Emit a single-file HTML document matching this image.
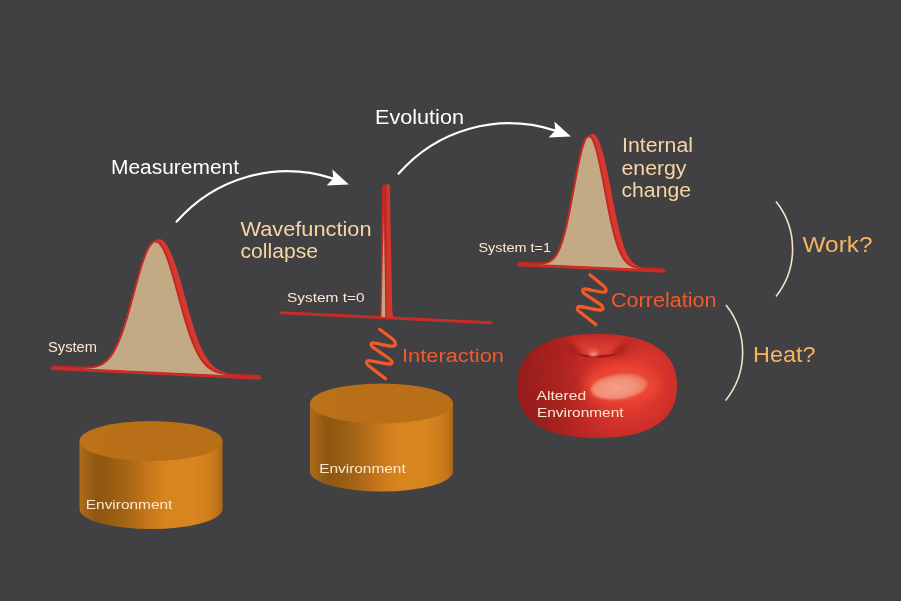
<!DOCTYPE html>
<html><head><meta charset="utf-8"><style>
html,body{margin:0;padding:0;background:#414042;}
svg{display:block;will-change:transform;}
text{font-family:"Liberation Sans", sans-serif;}
</style></head><body>
<svg width="901" height="601" viewBox="0 0 901 601">
<rect width="901" height="601" fill="#414042"/>
<defs>
<linearGradient id="cylside" x1="0" x2="1" y1="0" y2="0">
<stop offset="0" stop-color="#b06d19"/>
<stop offset="0.05" stop-color="#a0621a"/>
<stop offset="0.12" stop-color="#8f570f"/>
<stop offset="0.2" stop-color="#945b11"/>
<stop offset="0.34" stop-color="#a86615"/>
<stop offset="0.46" stop-color="#c2751a"/>
<stop offset="0.56" stop-color="#d3801d"/>
<stop offset="0.63" stop-color="#d9851f"/>
<stop offset="0.8" stop-color="#d9851f"/>
<stop offset="0.9" stop-color="#cf7e1d"/>
<stop offset="0.96" stop-color="#c17419"/>
<stop offset="1" stop-color="#a86715"/>
</linearGradient>
<linearGradient id="cyltop" x1="0" x2="1" y1="0" y2="0">
<stop offset="0" stop-color="#bd7319"/>
<stop offset="0.3" stop-color="#b86f18"/>
<stop offset="1" stop-color="#b87018"/>
</linearGradient>
<radialGradient id="torus" gradientUnits="userSpaceOnUse" cx="628" cy="383" r="105" fx="628" fy="383">
<stop offset="0" stop-color="#eb4233"/>
<stop offset="0.25" stop-color="#df392e"/>
<stop offset="0.5" stop-color="#c92d28"/>
<stop offset="0.75" stop-color="#b32521"/>
<stop offset="1" stop-color="#9b1e1e"/>
</radialGradient>
<linearGradient id="funnel" x1="0" x2="0" y1="0" y2="1">
<stop offset="0" stop-color="#c62e29"/>
<stop offset="0.6" stop-color="#d83a30"/>
<stop offset="1" stop-color="#ea4a3a"/>
</linearGradient>
<radialGradient id="hl" cx="0.45" cy="0.55" r="0.6">
<stop offset="0" stop-color="#f4a18b"/>
<stop offset="0.6" stop-color="#f18f79"/>
<stop offset="1" stop-color="#ec6a55"/>
</radialGradient>
<filter id="blur2" x="-50%" y="-50%" width="200%" height="200%"><feGaussianBlur stdDeviation="2.2"/></filter>
<filter id="blur8" x="-50%" y="-50%" width="200%" height="200%"><feGaussianBlur stdDeviation="10"/></filter>
<linearGradient id="spiketan" x1="0" x2="0" y1="0" y2="1">
<stop offset="0" stop-color="#c85a45"/>
<stop offset="0.35" stop-color="#c89878"/>
<stop offset="1" stop-color="#c4a985"/>
</linearGradient>
<filter id="blur3" x="-50%" y="-50%" width="200%" height="200%"><feGaussianBlur stdDeviation="3"/></filter>
<filter id="blur15" x="-50%" y="-50%" width="200%" height="200%"><feGaussianBlur stdDeviation="1.5"/></filter>
<filter id="blur08" x="-50%" y="-50%" width="200%" height="200%"><feGaussianBlur stdDeviation="0.8"/></filter>
<filter id="blur05" x="-50%" y="-50%" width="200%" height="200%"><feGaussianBlur stdDeviation="0.5"/></filter>
<filter id="blur4" x="-50%" y="-50%" width="200%" height="200%"><feGaussianBlur stdDeviation="5"/></filter>
<filter id="blur1" x="-50%" y="-50%" width="200%" height="200%"><feGaussianBlur stdDeviation="1.2"/></filter>
</defs>
<g transform="translate(0,0)"><path d="M176.7,221.6 C215,178 275,160 333.3,178.6" fill="none" stroke="#fff" stroke-width="2.2" stroke-linecap="round"/><path d="M332.4,169.6 L348.9,184.4 L326.6,185.5 L333.3,178.6 Z" fill="#fff"/></g>
<g transform="translate(222,-48)"><path d="M176.7,221.6 C215,178 275,160 333.3,178.6" fill="none" stroke="#fff" stroke-width="2.2" stroke-linecap="round"/><path d="M332.4,169.6 L348.9,184.4 L326.6,185.5 L333.3,178.6 Z" fill="#fff"/></g>
<path d="M79.5,441 L79.5,509 A71.5,20 0 0 0 222.5,509 L222.5,441 Z" fill="url(#cylside)"/><ellipse cx="151" cy="441" rx="71.5" ry="20" fill="url(#cyltop)"/>
<path d="M310.0,403.5 L310.0,471.5 A71.5,20 0 0 0 453.0,471.5 L453.0,403.5 Z" fill="url(#cylside)"/><ellipse cx="381.5" cy="403.5" rx="71.5" ry="20" fill="url(#cyltop)"/>
<path d="M52.00,367.24 L52.69,367.28 L53.39,367.31 L54.08,367.34 L54.77,367.37 L55.47,367.40 L56.16,367.44 L56.85,367.47 L57.55,367.50 L58.24,367.53 L58.93,367.57 L59.63,367.60 L60.32,367.63 L61.01,367.66 L61.71,367.69 L62.40,367.73 L63.09,367.76 L63.79,367.79 L64.48,367.82 L65.17,367.85 L65.87,367.89 L66.56,367.92 L67.25,367.95 L67.95,367.98 L68.64,368.01 L69.33,368.04 L70.03,368.08 L70.72,368.11 L71.41,368.14 L72.11,368.17 L72.80,368.20 L73.49,368.23 L74.19,368.26 L74.88,368.29 L75.57,368.32 L76.27,368.34 L76.96,368.37 L77.65,368.40 L78.35,368.42 L79.04,368.45 L79.73,368.48 L80.43,368.50 L81.12,368.52 L81.81,368.54 L82.51,368.56 L83.20,368.58 L83.89,368.60 L84.59,368.61 L85.28,368.63 L85.97,368.64 L86.67,368.65 L87.36,368.65 L88.05,368.65 L88.75,368.65 L89.44,368.65 L90.13,368.64 L90.83,368.62 L91.52,368.60 L92.21,368.58 L92.91,368.55 L93.60,368.51 L94.29,368.47 L94.99,368.42 L95.68,368.36 L96.37,368.29 L97.07,368.21 L97.76,368.12 L98.45,368.02 L99.15,367.90 L99.84,367.78 L100.53,367.63 L101.23,367.48 L101.92,367.30 L102.61,367.11 L103.31,366.90 L104.00,366.67 L104.69,366.41 L105.39,366.14 L106.08,365.83 L106.77,365.50 L107.47,365.15 L108.16,364.76 L108.85,364.35 L109.55,363.90 L110.24,363.41 L110.93,362.89 L111.63,362.33 L112.32,361.73 L113.01,361.09 L113.71,360.41 L114.40,359.68 L115.09,358.90 L115.79,358.07 L116.48,357.19 L117.17,356.26 L117.87,355.28 L118.56,354.24 L119.25,353.14 L119.95,351.99 L120.64,350.77 L121.33,349.49 L122.03,348.15 L122.72,346.75 L123.41,345.28 L124.11,343.75 L124.80,342.16 L125.49,340.49 L126.19,338.77 L126.88,336.98 L127.57,335.12 L128.27,333.20 L128.96,331.22 L129.65,329.17 L130.34,327.07 L131.04,324.90 L131.73,322.68 L132.42,320.41 L133.11,318.09 L133.80,315.72 L134.49,313.30 L135.18,310.85 L135.87,308.35 L136.56,305.83 L137.25,303.28 L137.93,300.70 L138.61,298.11 L139.29,295.51 L139.97,292.90 L140.65,290.29 L141.32,287.69 L141.99,285.10 L142.66,282.52 L143.32,279.97 L143.97,277.46 L144.63,274.97 L145.27,272.53 L145.92,270.14 L146.55,267.80 L147.19,265.52 L147.81,263.31 L148.44,261.16 L149.05,259.09 L149.67,257.10 L150.28,255.20 L150.88,253.38 L151.49,251.66 L152.09,250.05 L152.70,248.54 L153.30,247.14 L153.91,245.87 L154.53,244.72 L155.15,243.70 L155.77,242.82 L156.41,242.08 L157.05,241.49 L157.71,241.05 L158.37,240.77 L159.05,240.64 L159.75,240.67 L160.45,240.85 L161.17,241.18 L161.90,241.66 L162.64,242.28 L163.39,243.04 L164.15,243.94 L164.91,244.97 L165.68,246.12 L166.45,247.39 L167.23,248.78 L168.01,250.27 L168.79,251.87 L169.57,253.56 L170.35,255.35 L171.12,257.23 L171.90,259.18 L172.66,261.22 L173.43,263.33 L174.19,265.51 L174.94,267.76 L175.70,270.06 L176.44,272.42 L177.18,274.82 L177.92,277.27 L178.65,279.76 L179.38,282.29 L180.10,284.84 L180.82,287.41 L181.54,289.99 L182.25,292.59 L182.96,295.20 L183.67,297.80 L184.37,300.39 L185.08,302.98 L185.78,305.54 L186.48,308.09 L187.18,310.61 L187.88,313.10 L188.57,315.55 L189.27,317.97 L189.97,320.35 L190.66,322.68 L191.36,324.96 L192.05,327.20 L192.74,329.38 L193.44,331.50 L194.13,333.57 L194.83,335.58 L195.52,337.54 L196.21,339.43 L196.91,341.26 L197.60,343.04 L198.29,344.74 L198.99,346.39 L199.68,347.98 L200.37,349.50 L201.07,350.97 L201.76,352.37 L202.45,353.72 L203.15,355.00 L203.84,356.23 L204.53,357.41 L205.23,358.52 L205.92,359.59 L206.61,360.60 L207.31,361.56 L208.00,362.47 L208.69,363.33 L209.39,364.15 L210.08,364.92 L210.77,365.65 L211.47,366.33 L212.16,366.98 L212.85,367.59 L213.55,368.17 L214.24,368.70 L214.93,369.21 L215.63,369.69 L216.32,370.13 L217.01,370.55 L217.71,370.94 L218.40,371.30 L219.09,371.64 L219.79,371.96 L220.48,372.26 L221.17,372.54 L221.87,372.80 L222.56,373.04 L223.25,373.26 L223.95,373.47 L224.64,373.67 L225.33,373.85 L226.03,374.02 L226.72,374.18 L227.41,374.33 L228.11,374.46 L228.80,374.59 L229.49,374.71 L230.19,374.82 L230.88,374.93 L231.57,375.03 L232.27,375.12 L232.96,375.21 L233.65,375.29 L234.35,375.36 L235.04,375.44 L235.73,375.51 L236.43,375.57 L237.12,375.63 L237.81,375.69 L238.51,375.75 L239.20,375.80 L239.89,375.85 L240.59,375.90 L241.28,375.95 L241.97,376.00 L242.67,376.04 L243.36,376.08 L244.05,376.13 L244.75,376.17 L245.44,376.21 L246.13,376.25 L246.83,376.29 L247.52,376.32 L248.21,376.36 L248.91,376.40 L249.60,376.43 L250.29,376.47 L250.99,376.50 L251.68,376.54 L252.37,376.57 L253.07,376.61 L253.76,376.64 L254.45,376.67 L255.15,376.71 L255.84,376.74 L256.53,376.78 L257.23,376.81 L257.92,376.84 L258.61,376.87 L259.31,376.91 L260.00,376.94 L52.00,367.24Z" fill="#d8382e"/>
<path d="M100.53,367.63 L101.23,367.48 L101.92,367.30 L102.61,367.11 L103.31,366.90 L104.00,366.67 L104.69,366.41 L105.39,366.14 L106.08,365.83 L106.77,365.50 L107.47,365.15 L108.16,364.76 L108.85,364.35 L109.55,363.90 L110.24,363.41 L110.93,362.89 L111.63,362.33 L112.32,361.73 L113.01,361.09 L113.71,360.41 L114.40,359.68 L115.09,358.90 L115.79,358.07 L116.48,357.19 L117.17,356.26 L117.87,355.28 L118.56,354.24 L119.25,353.14 L119.95,351.99 L120.64,350.77 L121.33,349.49 L122.03,348.15 L122.72,346.75 L123.41,345.28 L124.11,343.75 L124.80,342.16 L125.49,340.49 L126.19,338.77 L126.88,336.98 L127.57,335.12 L128.27,333.20 L128.96,331.22 L129.65,329.17 L130.34,327.07 L131.04,324.90 L131.73,322.68 L132.42,320.41 L133.11,318.09 L133.80,315.72 L134.49,313.30 L135.18,310.85 L135.87,308.35 L136.56,305.83 L137.25,303.28 L137.93,300.70 L138.61,298.11 L139.29,295.51 L139.97,292.90 L140.65,290.29 L141.32,287.69 L141.99,285.10 L142.66,282.52 L143.32,279.97 L143.97,277.46 L144.63,274.97 L145.27,272.53 L145.92,270.14 L146.55,267.80 L147.19,265.52 L147.81,263.31 L148.44,261.16 L149.05,259.09 L149.67,257.10 L150.28,255.20 L150.88,253.38 L151.49,251.66 L152.09,250.05 L152.70,248.54 L153.30,247.14 L153.91,245.87 L154.53,244.72 L155.15,243.70 L155.77,242.82 L156.41,242.08 L157.05,241.49 L157.71,241.05 L158.37,240.77 L159.05,240.64 L159.75,240.67 L160.45,240.85 L161.17,241.18 L161.90,241.66 L162.64,242.28 L163.39,243.04 L164.15,243.94 L164.91,244.97 L165.68,246.12 L166.45,247.39 L167.23,248.78 L168.01,250.27 L168.79,251.87 L169.57,253.56 L170.35,255.35 L171.12,257.23 L171.90,259.18 L172.66,261.22 L173.43,263.33 L174.19,265.51 L174.94,267.76 L175.70,270.06 L176.44,272.42 L177.18,274.82 L177.92,277.27 L178.65,279.76 L179.38,282.29 L180.10,284.84 L180.82,287.41 L181.54,289.99 L182.25,292.59 L182.96,295.20 L183.67,297.80 L184.37,300.39 L185.08,302.98 L185.78,305.54 L186.48,308.09 L187.18,310.61 L187.88,313.10 L188.57,315.55 L189.27,317.97 L189.97,320.35 L190.66,322.68 L191.36,324.96 L192.05,327.20 L192.74,329.38 L193.44,331.50 L194.13,333.57 L194.83,335.58 L195.52,337.54 L196.21,339.43 L196.91,341.26 L197.60,343.04 L198.29,344.74 L198.99,346.39 L199.68,347.98 L200.37,349.50 L201.07,350.97 L201.76,352.37 L202.45,353.72 L203.15,355.00 L203.84,356.23 L204.53,357.41 L205.23,358.52 L205.92,359.59 L206.61,360.60 L207.31,361.56 L208.00,362.47 L208.69,363.33 L209.39,364.15 L210.08,364.92 L210.77,365.65 L211.47,366.33 L212.16,366.98 L212.85,367.59 L213.55,368.17 L214.24,368.70 L214.93,369.21 L215.63,369.69 L216.32,370.13 L217.01,370.55 L217.71,370.94 L218.40,371.30 L219.09,371.64 L219.79,371.96 L220.48,372.26 L221.17,372.54 L221.87,372.80 L222.56,373.04 L223.25,373.26 L223.95,373.47" fill="none" stroke="#d8382e" stroke-width="3.0" stroke-linejoin="round" stroke-linecap="round"/>
<path d="M52.00,367.50 L52.69,367.53 L53.39,367.56 L54.08,367.60 L54.77,367.63 L55.47,367.66 L56.16,367.69 L56.85,367.72 L57.55,367.76 L58.24,367.79 L58.93,367.82 L59.63,367.85 L60.32,367.88 L61.01,367.92 L61.71,367.95 L62.40,367.98 L63.09,368.01 L63.79,368.04 L64.48,368.07 L65.17,368.10 L65.87,368.14 L66.56,368.17 L67.25,368.20 L67.95,368.23 L68.64,368.26 L69.33,368.28 L70.03,368.31 L70.72,368.34 L71.41,368.37 L72.11,368.40 L72.80,368.42 L73.49,368.45 L74.19,368.47 L74.88,368.50 L75.57,368.52 L76.27,368.54 L76.96,368.56 L77.65,368.58 L78.35,368.60 L79.04,368.62 L79.73,368.63 L80.43,368.64 L81.12,368.65 L81.81,368.65 L82.51,368.66 L83.20,368.66 L83.89,368.65 L84.59,368.64 L85.28,368.63 L85.97,368.61 L86.67,368.59 L87.36,368.56 L88.05,368.53 L88.75,368.48 L89.44,368.43 L90.13,368.37 L90.83,368.31 L91.52,368.23 L92.21,368.14 L92.91,368.04 L93.60,367.93 L94.29,367.81 L94.99,367.67 L95.68,367.52 L96.37,367.35 L97.07,367.16 L97.76,366.95 L98.45,366.72 L99.15,366.47 L99.84,366.20 L100.53,365.91 L101.23,365.59 L101.92,365.24 L102.61,364.86 L103.31,364.45 L104.00,364.01 L104.69,363.53 L105.39,363.02 L106.08,362.47 L106.77,361.89 L107.47,361.26 L108.16,360.59 L108.85,359.87 L109.55,359.11 L110.24,358.29 L110.93,357.43 L111.63,356.52 L112.32,355.55 L113.01,354.53 L113.71,353.45 L114.40,352.32 L115.09,351.12 L115.79,349.87 L116.48,348.55 L117.17,347.17 L117.87,345.73 L118.56,344.22 L119.25,342.65 L119.95,341.02 L120.64,339.32 L121.33,337.56 L122.03,335.73 L122.72,333.84 L123.41,331.89 L124.11,329.88 L124.80,327.81 L125.49,325.68 L126.19,323.49 L126.88,321.26 L127.57,318.97 L128.27,316.63 L128.96,314.25 L129.65,311.83 L130.35,309.38 L131.04,306.89 L131.73,304.38 L132.43,301.84 L133.12,299.28 L133.81,296.72 L134.51,294.15 L135.20,291.57 L135.89,289.00 L136.59,286.45 L137.28,283.91 L137.97,281.39 L138.67,278.91 L139.36,276.46 L140.05,274.05 L140.75,271.68 L141.44,269.38 L142.13,267.12 L142.83,264.93 L143.52,262.81 L144.21,260.77 L144.91,258.80 L145.60,256.91 L146.29,255.12 L146.99,253.42 L147.68,251.82 L148.37,250.32 L149.07,248.94 L149.76,247.67 L150.45,246.53 L151.15,245.52 L151.84,244.64 L152.53,243.90 L153.23,243.31 L153.92,242.87 L154.61,242.58 L155.31,242.44 L156.00,242.46 L156.69,242.63 L157.39,242.95 L158.08,243.41 L158.77,244.02 L159.47,244.76 L160.16,245.63 L160.85,246.64 L161.55,247.77 L162.24,249.01 L162.93,250.37 L163.63,251.84 L164.32,253.41 L165.01,255.08 L165.71,256.83 L166.40,258.68 L167.09,260.61 L167.79,262.61 L168.48,264.69 L169.17,266.83 L169.87,269.04 L170.56,271.31 L171.25,273.63 L171.95,276.00 L172.64,278.42 L173.33,280.87 L174.03,283.36 L174.72,285.87 L175.41,288.41 L176.11,290.96 L176.80,293.52 L177.49,296.09 L178.19,298.66 L178.88,301.22 L179.57,303.77 L180.27,306.30 L180.96,308.82 L181.65,311.30 L182.35,313.76 L183.04,316.19 L183.73,318.57 L184.43,320.92 L185.12,323.22 L185.81,325.48 L186.51,327.69 L187.20,329.84 L187.89,331.94 L188.59,333.99 L189.28,335.98 L189.97,337.91 L190.67,339.78 L191.36,341.59 L192.05,343.34 L192.75,345.03 L193.44,346.66 L194.13,348.23 L194.83,349.74 L195.52,351.19 L196.21,352.58 L196.91,353.91 L197.60,355.18 L198.29,356.40 L198.99,357.56 L199.68,358.67 L200.37,359.72 L201.07,360.72 L201.76,361.67 L202.45,362.57 L203.15,363.43 L203.84,364.24 L204.53,365.00 L205.23,365.72 L205.92,366.40 L206.61,367.05 L207.31,367.65 L208.00,368.22 L208.69,368.75 L209.39,369.26 L210.08,369.73 L210.77,370.17 L211.47,370.58 L212.16,370.97 L212.85,371.33 L213.55,371.67 L214.24,371.99 L214.93,372.28 L215.63,372.56 L216.32,372.81 L217.01,373.05 L217.71,373.28 L218.40,373.48 L219.09,373.68 L219.79,373.86 L220.48,374.03 L221.17,374.18 L221.87,374.33 L222.56,374.47 L223.25,374.60 L223.95,374.71 L224.64,374.83 L225.33,374.93 L226.03,375.03 L226.72,375.12 L227.41,375.21 L228.11,375.29 L228.80,375.36 L229.49,375.44 L230.19,375.51 L230.88,375.57 L231.57,375.63 L232.27,375.69 L232.96,375.75 L233.65,375.80 L234.35,375.85 L235.04,375.90 L235.73,375.95 L236.43,376.00 L237.12,376.04 L237.81,376.08 L238.51,376.12 L239.20,376.17 L239.89,376.21 L240.59,376.24 L241.28,376.28 L241.97,376.32 L242.67,376.36 L243.36,376.39 L244.05,376.43 L244.75,376.47 L245.44,376.50 L246.13,376.54 L246.83,376.57 L247.52,376.60 L248.21,376.64 L248.91,376.67 L249.60,376.71 L250.29,376.74 L250.99,376.77 L251.68,376.81 L252.37,376.84 L253.07,376.87 L253.76,376.91 L254.45,376.94 L255.15,376.97 L255.84,377.00 L256.53,377.04 L257.23,377.07 L257.92,377.10 L258.61,377.13 L259.31,377.17 L260.00,377.20" fill="none" stroke="#c22926" stroke-width="4.2" stroke-linejoin="round"/>
<path d="M52.00,367.50 L52.69,367.53 L53.39,367.56 L54.08,367.60 L54.77,367.63 L55.47,367.66 L56.16,367.69 L56.85,367.72 L57.55,367.76 L58.24,367.79 L58.93,367.82 L59.63,367.85 L60.32,367.88 L61.01,367.92 L61.71,367.95 L62.40,367.98 L63.09,368.01 L63.79,368.04 L64.48,368.07 L65.17,368.10 L65.87,368.14 L66.56,368.17 L67.25,368.20 L67.95,368.23 L68.64,368.26 L69.33,368.28 L70.03,368.31 L70.72,368.34 L71.41,368.37 L72.11,368.40 L72.80,368.42 L73.49,368.45 L74.19,368.47 L74.88,368.50 L75.57,368.52 L76.27,368.54 L76.96,368.56 L77.65,368.58 L78.35,368.60 L79.04,368.62 L79.73,368.63 L80.43,368.64 L81.12,368.65 L81.81,368.65 L82.51,368.66 L83.20,368.66 L83.89,368.65 L84.59,368.64 L85.28,368.63 L85.97,368.61 L86.67,368.59 L87.36,368.56 L88.05,368.53 L88.75,368.48 L89.44,368.43 L90.13,368.37 L90.83,368.31 L91.52,368.23 L92.21,368.14 L92.91,368.04 L93.60,367.93 L94.29,367.81 L94.99,367.67 L95.68,367.52 L96.37,367.35 L97.07,367.16 L97.76,366.95 L98.45,366.72 L99.15,366.47 L99.84,366.20 L100.53,365.91 L101.23,365.59 L101.92,365.24 L102.61,364.86 L103.31,364.45 L104.00,364.01 L104.69,363.53 L105.39,363.02 L106.08,362.47 L106.77,361.89 L107.47,361.26 L108.16,360.59 L108.85,359.87 L109.55,359.11 L110.24,358.29 L110.93,357.43 L111.63,356.52 L112.32,355.55 L113.01,354.53 L113.71,353.45 L114.40,352.32 L115.09,351.12 L115.79,349.87 L116.48,348.55 L117.17,347.17 L117.87,345.73 L118.56,344.22 L119.25,342.65 L119.95,341.02 L120.64,339.32 L121.33,337.56 L122.03,335.73 L122.72,333.84 L123.41,331.89 L124.11,329.88 L124.80,327.81 L125.49,325.68 L126.19,323.49 L126.88,321.26 L127.57,318.97 L128.27,316.63 L128.96,314.25 L129.65,311.83 L130.35,309.38 L131.04,306.89 L131.73,304.38 L132.43,301.84 L133.12,299.28 L133.81,296.72 L134.51,294.15 L135.20,291.57 L135.89,289.00 L136.59,286.45 L137.28,283.91 L137.97,281.39 L138.67,278.91 L139.36,276.46 L140.05,274.05 L140.75,271.68 L141.44,269.38 L142.13,267.12 L142.83,264.93 L143.52,262.81 L144.21,260.77 L144.91,258.80 L145.60,256.91 L146.29,255.12 L146.99,253.42 L147.68,251.82 L148.37,250.32 L149.07,248.94 L149.76,247.67 L150.45,246.53 L151.15,245.52 L151.84,244.64 L152.53,243.90 L153.23,243.31 L153.92,242.87 L154.61,242.58 L155.31,242.44 L156.00,242.46 L156.69,242.63 L157.39,242.95 L158.08,243.41 L158.77,244.02 L159.47,244.76 L160.16,245.63 L160.85,246.64 L161.55,247.77 L162.24,249.01 L162.93,250.37 L163.63,251.84 L164.32,253.41 L165.01,255.08 L165.71,256.83 L166.40,258.68 L167.09,260.61 L167.79,262.61 L168.48,264.69 L169.17,266.83 L169.87,269.04 L170.56,271.31 L171.25,273.63 L171.95,276.00 L172.64,278.42 L173.33,280.87 L174.03,283.36 L174.72,285.87 L175.41,288.41 L176.11,290.96 L176.80,293.52 L177.49,296.09 L178.19,298.66 L178.88,301.22 L179.57,303.77 L180.27,306.30 L180.96,308.82 L181.65,311.30 L182.35,313.76 L183.04,316.19 L183.73,318.57 L184.43,320.92 L185.12,323.22 L185.81,325.48 L186.51,327.69 L187.20,329.84 L187.89,331.94 L188.59,333.99 L189.28,335.98 L189.97,337.91 L190.67,339.78 L191.36,341.59 L192.05,343.34 L192.75,345.03 L193.44,346.66 L194.13,348.23 L194.83,349.74 L195.52,351.19 L196.21,352.58 L196.91,353.91 L197.60,355.18 L198.29,356.40 L198.99,357.56 L199.68,358.67 L200.37,359.72 L201.07,360.72 L201.76,361.67 L202.45,362.57 L203.15,363.43 L203.84,364.24 L204.53,365.00 L205.23,365.72 L205.92,366.40 L206.61,367.05 L207.31,367.65 L208.00,368.22 L208.69,368.75 L209.39,369.26 L210.08,369.73 L210.77,370.17 L211.47,370.58 L212.16,370.97 L212.85,371.33 L213.55,371.67 L214.24,371.99 L214.93,372.28 L215.63,372.56 L216.32,372.81 L217.01,373.05 L217.71,373.28 L218.40,373.48 L219.09,373.68 L219.79,373.86 L220.48,374.03 L221.17,374.18 L221.87,374.33 L222.56,374.47 L223.25,374.60 L223.95,374.71 L224.64,374.83 L225.33,374.93 L226.03,375.03 L226.72,375.12 L227.41,375.21 L228.11,375.29 L228.80,375.36 L229.49,375.44 L230.19,375.51 L230.88,375.57 L231.57,375.63 L232.27,375.69 L232.96,375.75 L233.65,375.80 L234.35,375.85 L235.04,375.90 L235.73,375.95 L236.43,376.00 L237.12,376.04 L237.81,376.08 L238.51,376.12 L239.20,376.17 L239.89,376.21 L240.59,376.24 L241.28,376.28 L241.97,376.32 L242.67,376.36 L243.36,376.39 L244.05,376.43 L244.75,376.47 L245.44,376.50 L246.13,376.54 L246.83,376.57 L247.52,376.60 L248.21,376.64 L248.91,376.67 L249.60,376.71 L250.29,376.74 L250.99,376.77 L251.68,376.81 L252.37,376.84 L253.07,376.87 L253.76,376.91 L254.45,376.94 L255.15,376.97 L255.84,377.00 L256.53,377.04 L257.23,377.07 L257.92,377.10 L258.61,377.13 L259.31,377.17 L260.00,377.20Z" fill="#c4a985"/>
<line x1="52" y1="368.5" x2="260" y2="378.2" stroke="#c72c27" stroke-width="2.9" stroke-linecap="round"/>
<path d="M518.30,263.55 L518.79,263.58 L519.27,263.60 L519.76,263.62 L520.24,263.64 L520.73,263.66 L521.21,263.68 L521.70,263.71 L522.18,263.73 L522.67,263.75 L523.15,263.77 L523.64,263.79 L524.12,263.81 L524.61,263.84 L525.09,263.86 L525.58,263.88 L526.07,263.90 L526.55,263.92 L527.04,263.94 L527.52,263.96 L528.01,263.99 L528.49,264.01 L528.98,264.03 L529.46,264.05 L529.95,264.07 L530.43,264.09 L530.92,264.11 L531.40,264.13 L531.89,264.15 L532.37,264.17 L532.86,264.20 L533.35,264.22 L533.83,264.24 L534.32,264.25 L534.80,264.27 L535.29,264.29 L535.77,264.31 L536.26,264.33 L536.74,264.35 L537.23,264.37 L537.71,264.38 L538.20,264.40 L538.68,264.41 L539.17,264.43 L539.65,264.44 L540.14,264.45 L540.63,264.46 L541.11,264.47 L541.60,264.48 L542.08,264.48 L542.57,264.49 L543.05,264.49 L543.54,264.49 L544.02,264.49 L544.51,264.48 L544.99,264.47 L545.48,264.46 L545.96,264.44 L546.45,264.42 L546.93,264.39 L547.42,264.36 L547.91,264.32 L548.39,264.27 L548.88,264.22 L549.36,264.16 L549.85,264.09 L550.33,264.01 L550.82,263.92 L551.30,263.82 L551.79,263.71 L552.27,263.59 L552.76,263.45 L553.24,263.30 L553.73,263.13 L554.21,262.94 L554.70,262.73 L555.19,262.51 L555.67,262.26 L556.16,261.99 L556.64,261.69 L557.13,261.37 L557.61,261.02 L558.10,260.64 L558.58,260.23 L559.07,259.78 L559.55,259.30 L560.04,258.78 L560.52,258.23 L561.01,257.63 L561.49,256.99 L561.98,256.30 L562.47,255.57 L562.95,254.79 L563.44,253.96 L563.92,253.07 L564.41,252.13 L564.89,251.13 L565.38,250.08 L565.86,248.96 L566.35,247.78 L566.83,246.54 L567.32,245.23 L567.80,243.86 L568.29,242.42 L568.77,240.91 L569.26,239.34 L569.75,237.69 L570.23,235.98 L570.72,234.20 L571.20,232.34 L571.69,230.42 L572.17,228.43 L572.66,226.38 L573.14,224.26 L573.63,222.07 L574.11,219.83 L574.59,217.53 L575.08,215.17 L575.56,212.76 L576.04,210.30 L576.53,207.79 L577.01,205.25 L577.49,202.67 L577.97,200.06 L578.44,197.42 L578.92,194.77 L579.39,192.10 L579.87,189.42 L580.33,186.75 L580.80,184.07 L581.26,181.41 L581.72,178.77 L582.18,176.15 L582.63,173.55 L583.07,171.00 L583.51,168.48 L583.95,166.01 L584.38,163.59 L584.80,161.23 L585.22,158.93 L585.63,156.70 L586.04,154.55 L586.45,152.47 L586.85,150.48 L587.24,148.58 L587.64,146.77 L588.03,145.07 L588.42,143.49 L588.82,142.02 L589.22,140.68 L589.62,139.48 L590.03,138.42 L590.44,137.52 L590.87,136.77 L591.31,136.18 L591.76,135.77 L592.22,135.52 L592.70,135.46 L593.19,135.56 L593.69,135.82 L594.21,136.24 L594.74,136.82 L595.28,137.55 L595.83,138.43 L596.39,139.45 L596.95,140.59 L597.52,141.87 L598.09,143.27 L598.66,144.77 L599.24,146.39 L599.81,148.10 L600.38,149.91 L600.95,151.80 L601.52,153.78 L602.08,155.83 L602.64,157.95 L603.19,160.14 L603.74,162.40 L604.28,164.71 L604.82,167.08 L605.35,169.49 L605.88,171.95 L606.40,174.45 L606.92,176.98 L607.44,179.53 L607.95,182.12 L608.46,184.71 L608.96,187.32 L609.47,189.94 L609.97,192.56 L610.46,195.17 L610.96,197.77 L611.45,200.35 L611.94,202.91 L612.43,205.45 L612.92,207.96 L613.41,210.43 L613.90,212.86 L614.39,215.25 L614.88,217.59 L615.36,219.89 L615.85,222.13 L616.33,224.32 L616.82,226.45 L617.31,228.52 L617.79,230.53 L618.28,232.48 L618.76,234.37 L619.25,236.19 L619.73,237.95 L620.22,239.65 L620.71,241.28 L621.19,242.85 L621.68,244.36 L622.16,245.80 L622.65,247.18 L623.13,248.50 L623.62,249.77 L624.10,250.97 L624.59,252.11 L625.07,253.20 L625.56,254.23 L626.04,255.21 L626.53,256.14 L627.01,257.02 L627.50,257.85 L627.99,258.63 L628.47,259.37 L628.96,260.06 L629.44,260.72 L629.93,261.33 L630.41,261.91 L630.90,262.45 L631.38,262.95 L631.87,263.43 L632.35,263.87 L632.84,264.28 L633.32,264.67 L633.81,265.03 L634.29,265.36 L634.78,265.67 L635.27,265.96 L635.75,266.23 L636.24,266.48 L636.72,266.72 L637.21,266.93 L637.69,267.13 L638.18,267.31 L638.66,267.49 L639.15,267.64 L639.63,267.79 L640.12,267.93 L640.60,268.05 L641.09,268.17 L641.57,268.28 L642.06,268.38 L642.55,268.47 L643.03,268.56 L643.52,268.64 L644.00,268.71 L644.49,268.78 L644.97,268.85 L645.46,268.91 L645.94,268.96 L646.43,269.02 L646.91,269.07 L647.40,269.12 L647.88,269.16 L648.37,269.20 L648.85,269.24 L649.34,269.28 L649.83,269.32 L650.31,269.35 L650.80,269.38 L651.28,269.42 L651.77,269.45 L652.25,269.48 L652.74,269.50 L653.22,269.53 L653.71,269.56 L654.19,269.59 L654.68,269.61 L655.16,269.64 L655.65,269.66 L656.13,269.69 L656.62,269.71 L657.11,269.74 L657.59,269.76 L658.08,269.78 L658.56,269.81 L659.05,269.83 L659.53,269.85 L660.02,269.87 L660.50,269.90 L660.99,269.92 L661.47,269.94 L661.96,269.96 L662.44,269.99 L662.93,270.01 L663.41,270.03 L663.90,270.05 L518.30,263.55Z" fill="#d8382e"/>
<path d="M553.24,263.30 L553.73,263.13 L554.21,262.94 L554.70,262.73 L555.19,262.51 L555.67,262.26 L556.16,261.99 L556.64,261.69 L557.13,261.37 L557.61,261.02 L558.10,260.64 L558.58,260.23 L559.07,259.78 L559.55,259.30 L560.04,258.78 L560.52,258.23 L561.01,257.63 L561.49,256.99 L561.98,256.30 L562.47,255.57 L562.95,254.79 L563.44,253.96 L563.92,253.07 L564.41,252.13 L564.89,251.13 L565.38,250.08 L565.86,248.96 L566.35,247.78 L566.83,246.54 L567.32,245.23 L567.80,243.86 L568.29,242.42 L568.77,240.91 L569.26,239.34 L569.75,237.69 L570.23,235.98 L570.72,234.20 L571.20,232.34 L571.69,230.42 L572.17,228.43 L572.66,226.38 L573.14,224.26 L573.63,222.07 L574.11,219.83 L574.59,217.53 L575.08,215.17 L575.56,212.76 L576.04,210.30 L576.53,207.79 L577.01,205.25 L577.49,202.67 L577.97,200.06 L578.44,197.42 L578.92,194.77 L579.39,192.10 L579.87,189.42 L580.33,186.75 L580.80,184.07 L581.26,181.41 L581.72,178.77 L582.18,176.15 L582.63,173.55 L583.07,171.00 L583.51,168.48 L583.95,166.01 L584.38,163.59 L584.80,161.23 L585.22,158.93 L585.63,156.70 L586.04,154.55 L586.45,152.47 L586.85,150.48 L587.24,148.58 L587.64,146.77 L588.03,145.07 L588.42,143.49 L588.82,142.02 L589.22,140.68 L589.62,139.48 L590.03,138.42 L590.44,137.52 L590.87,136.77 L591.31,136.18 L591.76,135.77 L592.22,135.52 L592.70,135.46 L593.19,135.56 L593.69,135.82 L594.21,136.24 L594.74,136.82 L595.28,137.55 L595.83,138.43 L596.39,139.45 L596.95,140.59 L597.52,141.87 L598.09,143.27 L598.66,144.77 L599.24,146.39 L599.81,148.10 L600.38,149.91 L600.95,151.80 L601.52,153.78 L602.08,155.83 L602.64,157.95 L603.19,160.14 L603.74,162.40 L604.28,164.71 L604.82,167.08 L605.35,169.49 L605.88,171.95 L606.40,174.45 L606.92,176.98 L607.44,179.53 L607.95,182.12 L608.46,184.71 L608.96,187.32 L609.47,189.94 L609.97,192.56 L610.46,195.17 L610.96,197.77 L611.45,200.35 L611.94,202.91 L612.43,205.45 L612.92,207.96 L613.41,210.43 L613.90,212.86 L614.39,215.25 L614.88,217.59 L615.36,219.89 L615.85,222.13 L616.33,224.32 L616.82,226.45 L617.31,228.52 L617.79,230.53 L618.28,232.48 L618.76,234.37 L619.25,236.19 L619.73,237.95 L620.22,239.65 L620.71,241.28 L621.19,242.85 L621.68,244.36 L622.16,245.80 L622.65,247.18 L623.13,248.50 L623.62,249.77 L624.10,250.97 L624.59,252.11 L625.07,253.20 L625.56,254.23 L626.04,255.21 L626.53,256.14 L627.01,257.02 L627.50,257.85 L627.99,258.63 L628.47,259.37 L628.96,260.06 L629.44,260.72 L629.93,261.33 L630.41,261.91 L630.90,262.45 L631.38,262.95 L631.87,263.43 L632.35,263.87 L632.84,264.28 L633.32,264.67 L633.81,265.03 L634.29,265.36 L634.78,265.67 L635.27,265.96 L635.75,266.23 L636.24,266.48 L636.72,266.72 L637.21,266.93 L637.69,267.13" fill="none" stroke="#d8382e" stroke-width="3.0" stroke-linejoin="round" stroke-linecap="round"/>
<path d="M518.30,263.80 L518.79,263.82 L519.27,263.84 L519.76,263.86 L520.24,263.89 L520.73,263.91 L521.21,263.93 L521.70,263.95 L522.18,263.97 L522.67,263.99 L523.15,264.01 L523.64,264.04 L524.12,264.06 L524.61,264.08 L525.09,264.10 L525.58,264.12 L526.07,264.14 L526.55,264.16 L527.04,264.18 L527.52,264.20 L528.01,264.22 L528.49,264.24 L528.98,264.26 L529.46,264.28 L529.95,264.30 L530.43,264.32 L530.92,264.34 L531.40,264.35 L531.89,264.37 L532.37,264.39 L532.86,264.40 L533.35,264.42 L533.83,264.43 L534.32,264.44 L534.80,264.46 L535.29,264.47 L535.77,264.48 L536.26,264.48 L536.74,264.49 L537.23,264.49 L537.71,264.49 L538.20,264.49 L538.68,264.49 L539.17,264.48 L539.65,264.47 L540.14,264.45 L540.63,264.44 L541.11,264.41 L541.60,264.38 L542.08,264.35 L542.57,264.31 L543.05,264.26 L543.54,264.21 L544.02,264.15 L544.51,264.08 L544.99,264.00 L545.48,263.91 L545.96,263.80 L546.45,263.69 L546.93,263.56 L547.42,263.42 L547.91,263.27 L548.39,263.09 L548.88,262.90 L549.36,262.69 L549.85,262.46 L550.33,262.21 L550.82,261.94 L551.30,261.64 L551.79,261.31 L552.27,260.95 L552.76,260.57 L553.24,260.15 L553.73,259.70 L554.21,259.22 L554.70,258.70 L555.19,258.13 L555.67,257.53 L556.16,256.89 L556.64,256.19 L557.13,255.46 L557.61,254.67 L558.10,253.83 L558.58,252.94 L559.07,251.99 L559.55,250.99 L560.04,249.93 L560.52,248.81 L561.01,247.63 L561.49,246.38 L561.98,245.07 L562.47,243.70 L562.95,242.25 L563.44,240.75 L563.92,239.17 L564.41,237.52 L564.89,235.81 L565.38,234.03 L565.86,232.18 L566.35,230.26 L566.83,228.28 L567.32,226.23 L567.80,224.12 L568.29,221.95 L568.77,219.71 L569.26,217.42 L569.75,215.08 L570.23,212.68 L570.72,210.24 L571.20,207.76 L571.69,205.24 L572.17,202.68 L572.66,200.10 L573.14,197.50 L573.63,194.87 L574.11,192.24 L574.60,189.60 L575.08,186.96 L575.57,184.33 L576.05,181.71 L576.54,179.11 L577.03,176.53 L577.51,173.98 L578.00,171.47 L578.48,169.01 L578.97,166.59 L579.45,164.22 L579.94,161.91 L580.42,159.67 L580.91,157.49 L581.39,155.39 L581.88,153.37 L582.36,151.43 L582.85,149.59 L583.33,147.85 L583.82,146.21 L584.31,144.68 L584.79,143.28 L585.28,142.00 L585.76,140.86 L586.25,139.87 L586.73,139.02 L587.22,138.34 L587.70,137.82 L588.19,137.46 L588.67,137.28 L589.16,137.27 L589.64,137.43 L590.13,137.74 L590.61,138.21 L591.10,138.83 L591.59,139.60 L592.07,140.51 L592.56,141.56 L593.04,142.73 L593.53,144.03 L594.01,145.44 L594.50,146.97 L594.98,148.59 L595.47,150.31 L595.95,152.12 L596.44,154.02 L596.92,155.99 L597.41,158.04 L597.89,160.16 L598.38,162.34 L598.87,164.59 L599.35,166.89 L599.84,169.24 L600.32,171.63 L600.81,174.07 L601.29,176.55 L601.78,179.05 L602.26,181.58 L602.75,184.14 L603.23,186.70 L603.72,189.28 L604.20,191.86 L604.69,194.44 L605.17,197.01 L605.66,199.57 L606.15,202.12 L606.63,204.64 L607.12,207.13 L607.60,209.59 L608.09,212.02 L608.57,214.40 L609.06,216.74 L609.54,219.04 L610.03,221.28 L610.51,223.48 L611.00,225.62 L611.48,227.70 L611.97,229.72 L612.45,231.69 L612.94,233.59 L613.43,235.43 L613.91,237.21 L614.40,238.93 L614.88,240.58 L615.37,242.17 L615.85,243.70 L616.34,245.16 L616.82,246.57 L617.31,247.91 L617.79,249.19 L618.28,250.42 L618.76,251.59 L619.25,252.70 L619.73,253.75 L620.22,254.75 L620.71,255.70 L621.19,256.60 L621.68,257.45 L622.16,258.25 L622.65,259.01 L623.13,259.73 L623.62,260.40 L624.10,261.03 L624.59,261.62 L625.07,262.18 L625.56,262.70 L626.04,263.19 L626.53,263.65 L627.01,264.07 L627.50,264.47 L627.99,264.85 L628.47,265.19 L628.96,265.51 L629.44,265.81 L629.93,266.09 L630.41,266.35 L630.90,266.59 L631.38,266.82 L631.87,267.02 L632.35,267.22 L632.84,267.39 L633.32,267.56 L633.81,267.71 L634.29,267.85 L634.78,267.98 L635.27,268.11 L635.75,268.22 L636.24,268.32 L636.72,268.42 L637.21,268.51 L637.69,268.59 L638.18,268.67 L638.66,268.74 L639.15,268.81 L639.63,268.87 L640.12,268.93 L640.60,268.99 L641.09,269.04 L641.57,269.09 L642.06,269.13 L642.55,269.18 L643.03,269.22 L643.52,269.26 L644.00,269.29 L644.49,269.33 L644.97,269.36 L645.46,269.40 L645.94,269.43 L646.43,269.46 L646.91,269.49 L647.40,269.51 L647.88,269.54 L648.37,269.57 L648.85,269.60 L649.34,269.62 L649.83,269.65 L650.31,269.67 L650.80,269.70 L651.28,269.72 L651.77,269.74 L652.25,269.77 L652.74,269.79 L653.22,269.81 L653.71,269.84 L654.19,269.86 L654.68,269.88 L655.16,269.90 L655.65,269.93 L656.13,269.95 L656.62,269.97 L657.11,269.99 L657.59,270.02 L658.08,270.04 L658.56,270.06 L659.05,270.08 L659.53,270.10 L660.02,270.13 L660.50,270.15 L660.99,270.17 L661.47,270.19 L661.96,270.21 L662.44,270.23 L662.93,270.26 L663.41,270.28 L663.90,270.30" fill="none" stroke="#c22926" stroke-width="4.2" stroke-linejoin="round"/>
<path d="M518.30,263.80 L518.79,263.82 L519.27,263.84 L519.76,263.86 L520.24,263.89 L520.73,263.91 L521.21,263.93 L521.70,263.95 L522.18,263.97 L522.67,263.99 L523.15,264.01 L523.64,264.04 L524.12,264.06 L524.61,264.08 L525.09,264.10 L525.58,264.12 L526.07,264.14 L526.55,264.16 L527.04,264.18 L527.52,264.20 L528.01,264.22 L528.49,264.24 L528.98,264.26 L529.46,264.28 L529.95,264.30 L530.43,264.32 L530.92,264.34 L531.40,264.35 L531.89,264.37 L532.37,264.39 L532.86,264.40 L533.35,264.42 L533.83,264.43 L534.32,264.44 L534.80,264.46 L535.29,264.47 L535.77,264.48 L536.26,264.48 L536.74,264.49 L537.23,264.49 L537.71,264.49 L538.20,264.49 L538.68,264.49 L539.17,264.48 L539.65,264.47 L540.14,264.45 L540.63,264.44 L541.11,264.41 L541.60,264.38 L542.08,264.35 L542.57,264.31 L543.05,264.26 L543.54,264.21 L544.02,264.15 L544.51,264.08 L544.99,264.00 L545.48,263.91 L545.96,263.80 L546.45,263.69 L546.93,263.56 L547.42,263.42 L547.91,263.27 L548.39,263.09 L548.88,262.90 L549.36,262.69 L549.85,262.46 L550.33,262.21 L550.82,261.94 L551.30,261.64 L551.79,261.31 L552.27,260.95 L552.76,260.57 L553.24,260.15 L553.73,259.70 L554.21,259.22 L554.70,258.70 L555.19,258.13 L555.67,257.53 L556.16,256.89 L556.64,256.19 L557.13,255.46 L557.61,254.67 L558.10,253.83 L558.58,252.94 L559.07,251.99 L559.55,250.99 L560.04,249.93 L560.52,248.81 L561.01,247.63 L561.49,246.38 L561.98,245.07 L562.47,243.70 L562.95,242.25 L563.44,240.75 L563.92,239.17 L564.41,237.52 L564.89,235.81 L565.38,234.03 L565.86,232.18 L566.35,230.26 L566.83,228.28 L567.32,226.23 L567.80,224.12 L568.29,221.95 L568.77,219.71 L569.26,217.42 L569.75,215.08 L570.23,212.68 L570.72,210.24 L571.20,207.76 L571.69,205.24 L572.17,202.68 L572.66,200.10 L573.14,197.50 L573.63,194.87 L574.11,192.24 L574.60,189.60 L575.08,186.96 L575.57,184.33 L576.05,181.71 L576.54,179.11 L577.03,176.53 L577.51,173.98 L578.00,171.47 L578.48,169.01 L578.97,166.59 L579.45,164.22 L579.94,161.91 L580.42,159.67 L580.91,157.49 L581.39,155.39 L581.88,153.37 L582.36,151.43 L582.85,149.59 L583.33,147.85 L583.82,146.21 L584.31,144.68 L584.79,143.28 L585.28,142.00 L585.76,140.86 L586.25,139.87 L586.73,139.02 L587.22,138.34 L587.70,137.82 L588.19,137.46 L588.67,137.28 L589.16,137.27 L589.64,137.43 L590.13,137.74 L590.61,138.21 L591.10,138.83 L591.59,139.60 L592.07,140.51 L592.56,141.56 L593.04,142.73 L593.53,144.03 L594.01,145.44 L594.50,146.97 L594.98,148.59 L595.47,150.31 L595.95,152.12 L596.44,154.02 L596.92,155.99 L597.41,158.04 L597.89,160.16 L598.38,162.34 L598.87,164.59 L599.35,166.89 L599.84,169.24 L600.32,171.63 L600.81,174.07 L601.29,176.55 L601.78,179.05 L602.26,181.58 L602.75,184.14 L603.23,186.70 L603.72,189.28 L604.20,191.86 L604.69,194.44 L605.17,197.01 L605.66,199.57 L606.15,202.12 L606.63,204.64 L607.12,207.13 L607.60,209.59 L608.09,212.02 L608.57,214.40 L609.06,216.74 L609.54,219.04 L610.03,221.28 L610.51,223.48 L611.00,225.62 L611.48,227.70 L611.97,229.72 L612.45,231.69 L612.94,233.59 L613.43,235.43 L613.91,237.21 L614.40,238.93 L614.88,240.58 L615.37,242.17 L615.85,243.70 L616.34,245.16 L616.82,246.57 L617.31,247.91 L617.79,249.19 L618.28,250.42 L618.76,251.59 L619.25,252.70 L619.73,253.75 L620.22,254.75 L620.71,255.70 L621.19,256.60 L621.68,257.45 L622.16,258.25 L622.65,259.01 L623.13,259.73 L623.62,260.40 L624.10,261.03 L624.59,261.62 L625.07,262.18 L625.56,262.70 L626.04,263.19 L626.53,263.65 L627.01,264.07 L627.50,264.47 L627.99,264.85 L628.47,265.19 L628.96,265.51 L629.44,265.81 L629.93,266.09 L630.41,266.35 L630.90,266.59 L631.38,266.82 L631.87,267.02 L632.35,267.22 L632.84,267.39 L633.32,267.56 L633.81,267.71 L634.29,267.85 L634.78,267.98 L635.27,268.11 L635.75,268.22 L636.24,268.32 L636.72,268.42 L637.21,268.51 L637.69,268.59 L638.18,268.67 L638.66,268.74 L639.15,268.81 L639.63,268.87 L640.12,268.93 L640.60,268.99 L641.09,269.04 L641.57,269.09 L642.06,269.13 L642.55,269.18 L643.03,269.22 L643.52,269.26 L644.00,269.29 L644.49,269.33 L644.97,269.36 L645.46,269.40 L645.94,269.43 L646.43,269.46 L646.91,269.49 L647.40,269.51 L647.88,269.54 L648.37,269.57 L648.85,269.60 L649.34,269.62 L649.83,269.65 L650.31,269.67 L650.80,269.70 L651.28,269.72 L651.77,269.74 L652.25,269.77 L652.74,269.79 L653.22,269.81 L653.71,269.84 L654.19,269.86 L654.68,269.88 L655.16,269.90 L655.65,269.93 L656.13,269.95 L656.62,269.97 L657.11,269.99 L657.59,270.02 L658.08,270.04 L658.56,270.06 L659.05,270.08 L659.53,270.10 L660.02,270.13 L660.50,270.15 L660.99,270.17 L661.47,270.19 L661.96,270.21 L662.44,270.23 L662.93,270.26 L663.41,270.28 L663.90,270.30Z" fill="#c4a985"/>
<line x1="518.3" y1="264.8" x2="663.9" y2="271.3" stroke="#c72c27" stroke-width="2.9" stroke-linecap="round"/>
<g>
<line x1="281" y1="312.8" x2="491" y2="322.8" stroke="#c72c27" stroke-width="3.0" stroke-linecap="round"/>
<path d="M382.2,185.6 Q384,184.2 385.9,185 L385.9,318 L380.4,318 Z" fill="#c12a27"/>
<path d="M385.9,184.8 Q387.8,183.6 389.8,184.5 L392.4,318 L385.9,318 Z" fill="#d3362d"/>
<path d="M380.6,310 Q380.5,315.5 378.6,316.6 L382,318 Z" fill="#c12a27"/>
<path d="M392.3,310 Q392.5,316 394.5,317.5 L391,318.5 Z" fill="#d3362d"/>
<path d="M383.8,212 L385.5,317 L381.5,317 Z" fill="url(#spiketan)"/>
<line x1="385.9" y1="186" x2="385.9" y2="317" stroke="#b42624" stroke-width="0.9"/>
</g>
<path d="M379.6,329.2 L392.3,338.8 C395.5,341.2 397,345.8 393,346.1 C388,346.4 378,343.3 373.3,342.9 C370,342.7 370.5,345.8 373.3,347.6 L389.1,358.5 C392.5,360.8 393,364.2 389.8,364.1 C385,364 373,361 368.9,360.7 C365.5,360.5 366.2,364 368.5,365.7 L385.4,378.6" fill="none" stroke="#f15a2b" stroke-width="3.3" stroke-linecap="round" stroke-linejoin="round"/>
<path d="M590,274.8 L603.3,285.8 C606.5,288.2 607.5,292 604,292.2 C599,292.4 589,289.3 585.3,289 C582,288.8 582,292 584.3,293.6 L600.4,304.4 C603.6,306.6 604,310 600.8,310 C596,310 584,306.8 579.8,306.5 C576.5,306.3 577,309.6 579,311.3 L595.9,324.6" fill="none" stroke="#f15a2b" stroke-width="3.3" stroke-linecap="round" stroke-linejoin="round"/>
<path d="M776,201.6 A76,76 0 0 1 776,296.4" fill="none" stroke="#f3e2c8" stroke-width="1.6"/>
<path d="M726,305 A76,76 0 0 1 725.6,400.4" fill="none" stroke="#f3e2c8" stroke-width="1.6"/>
<defs><clipPath id="torclip"><path d="M677.00,386.00 L676.98,388.50 L676.91,390.45 L676.79,392.24 L676.63,393.92 L676.43,395.53 L676.18,397.08 L675.88,398.59 L675.54,400.05 L675.15,401.47 L674.72,402.86 L674.25,404.22 L673.72,405.54 L673.16,406.84 L672.55,408.11 L671.89,409.35 L671.19,410.57 L670.45,411.76 L669.66,412.93 L668.84,414.07 L667.96,415.18 L667.05,416.27 L666.09,417.34 L665.09,418.38 L664.05,419.40 L662.96,420.39 L661.84,421.35 L660.67,422.29 L659.47,423.20 L658.22,424.09 L656.93,424.96 L655.60,425.79 L654.24,426.60 L652.83,427.39 L651.39,428.15 L649.90,428.88 L648.38,429.58 L646.82,430.26 L645.21,430.91 L643.58,431.53 L641.90,432.13 L640.18,432.69 L638.43,433.23 L636.63,433.74 L634.80,434.23 L632.93,434.68 L631.02,435.11 L629.06,435.50 L627.07,435.87 L625.02,436.21 L622.94,436.52 L620.80,436.80 L618.61,437.05 L616.36,437.27 L614.05,437.47 L611.66,437.63 L609.18,437.76 L606.59,437.87 L603.85,437.94 L600.84,437.99 L597.00,438.00 L593.16,437.99 L590.15,437.94 L587.41,437.87 L584.82,437.76 L582.34,437.63 L579.95,437.47 L577.64,437.27 L575.39,437.05 L573.20,436.80 L571.06,436.52 L568.98,436.21 L566.93,435.87 L564.94,435.50 L562.98,435.11 L561.07,434.68 L559.20,434.23 L557.37,433.74 L555.57,433.23 L553.82,432.69 L552.10,432.13 L550.42,431.53 L548.79,430.91 L547.18,430.26 L545.62,429.58 L544.10,428.88 L542.61,428.15 L541.17,427.39 L539.76,426.60 L538.40,425.79 L537.07,424.96 L535.78,424.09 L534.53,423.20 L533.33,422.29 L532.16,421.35 L531.04,420.39 L529.95,419.40 L528.91,418.38 L527.91,417.34 L526.95,416.27 L526.04,415.18 L525.16,414.07 L524.34,412.93 L523.55,411.76 L522.81,410.57 L522.11,409.35 L521.45,408.11 L520.84,406.84 L520.28,405.54 L519.75,404.22 L519.28,402.86 L518.85,401.47 L518.46,400.05 L518.12,398.59 L517.82,397.08 L517.57,395.53 L517.37,393.92 L517.21,392.24 L517.09,390.45 L517.02,388.50 L517.00,386.00 L517.02,383.50 L517.09,381.55 L517.21,379.76 L517.37,378.08 L517.57,376.47 L517.82,374.92 L518.12,373.41 L518.46,371.95 L518.85,370.53 L519.28,369.14 L519.75,367.78 L520.28,366.46 L520.84,365.16 L521.45,363.89 L522.11,362.65 L522.81,361.43 L523.55,360.24 L524.34,359.07 L525.16,357.93 L526.04,356.82 L526.95,355.73 L527.91,354.66 L528.91,353.62 L529.95,352.60 L531.04,351.61 L532.16,350.65 L533.33,349.71 L534.53,348.80 L535.78,347.91 L537.07,347.04 L538.40,346.21 L539.76,345.40 L541.17,344.61 L542.61,343.85 L544.10,343.12 L545.62,342.42 L547.18,341.74 L548.79,341.09 L550.42,340.47 L552.10,339.87 L553.82,339.31 L555.57,338.77 L557.37,338.26 L559.20,337.77 L561.07,337.32 L562.98,336.89 L564.94,336.50 L566.93,336.13 L568.98,335.79 L571.06,335.48 L573.20,335.20 L575.39,334.95 L577.64,334.73 L579.95,334.53 L582.34,334.37 L584.82,334.24 L587.41,334.13 L590.15,334.06 L593.16,334.01 L597.00,334.00 L600.84,334.01 L603.85,334.06 L606.59,334.13 L609.18,334.24 L611.66,334.37 L614.05,334.53 L616.36,334.73 L618.61,334.95 L620.80,335.20 L622.94,335.48 L625.02,335.79 L627.07,336.13 L629.06,336.50 L631.02,336.89 L632.93,337.32 L634.80,337.77 L636.63,338.26 L638.43,338.77 L640.18,339.31 L641.90,339.87 L643.58,340.47 L645.21,341.09 L646.82,341.74 L648.38,342.42 L649.90,343.12 L651.39,343.85 L652.83,344.61 L654.24,345.40 L655.60,346.21 L656.93,347.04 L658.22,347.91 L659.47,348.80 L660.67,349.71 L661.84,350.65 L662.96,351.61 L664.05,352.60 L665.09,353.62 L666.09,354.66 L667.05,355.73 L667.96,356.82 L668.84,357.93 L669.66,359.07 L670.45,360.24 L671.19,361.43 L671.89,362.65 L672.55,363.89 L673.16,365.16 L673.72,366.46 L674.25,367.78 L674.72,369.14 L675.15,370.53 L675.54,371.95 L675.88,373.41 L676.18,374.92 L676.43,376.47 L676.63,378.08 L676.79,379.76 L676.91,381.55 L676.98,383.50Z"/></clipPath></defs>
<g clip-path="url(#torclip)">
<path d="M677.00,386.00 L676.98,388.50 L676.91,390.45 L676.79,392.24 L676.63,393.92 L676.43,395.53 L676.18,397.08 L675.88,398.59 L675.54,400.05 L675.15,401.47 L674.72,402.86 L674.25,404.22 L673.72,405.54 L673.16,406.84 L672.55,408.11 L671.89,409.35 L671.19,410.57 L670.45,411.76 L669.66,412.93 L668.84,414.07 L667.96,415.18 L667.05,416.27 L666.09,417.34 L665.09,418.38 L664.05,419.40 L662.96,420.39 L661.84,421.35 L660.67,422.29 L659.47,423.20 L658.22,424.09 L656.93,424.96 L655.60,425.79 L654.24,426.60 L652.83,427.39 L651.39,428.15 L649.90,428.88 L648.38,429.58 L646.82,430.26 L645.21,430.91 L643.58,431.53 L641.90,432.13 L640.18,432.69 L638.43,433.23 L636.63,433.74 L634.80,434.23 L632.93,434.68 L631.02,435.11 L629.06,435.50 L627.07,435.87 L625.02,436.21 L622.94,436.52 L620.80,436.80 L618.61,437.05 L616.36,437.27 L614.05,437.47 L611.66,437.63 L609.18,437.76 L606.59,437.87 L603.85,437.94 L600.84,437.99 L597.00,438.00 L593.16,437.99 L590.15,437.94 L587.41,437.87 L584.82,437.76 L582.34,437.63 L579.95,437.47 L577.64,437.27 L575.39,437.05 L573.20,436.80 L571.06,436.52 L568.98,436.21 L566.93,435.87 L564.94,435.50 L562.98,435.11 L561.07,434.68 L559.20,434.23 L557.37,433.74 L555.57,433.23 L553.82,432.69 L552.10,432.13 L550.42,431.53 L548.79,430.91 L547.18,430.26 L545.62,429.58 L544.10,428.88 L542.61,428.15 L541.17,427.39 L539.76,426.60 L538.40,425.79 L537.07,424.96 L535.78,424.09 L534.53,423.20 L533.33,422.29 L532.16,421.35 L531.04,420.39 L529.95,419.40 L528.91,418.38 L527.91,417.34 L526.95,416.27 L526.04,415.18 L525.16,414.07 L524.34,412.93 L523.55,411.76 L522.81,410.57 L522.11,409.35 L521.45,408.11 L520.84,406.84 L520.28,405.54 L519.75,404.22 L519.28,402.86 L518.85,401.47 L518.46,400.05 L518.12,398.59 L517.82,397.08 L517.57,395.53 L517.37,393.92 L517.21,392.24 L517.09,390.45 L517.02,388.50 L517.00,386.00 L517.02,383.50 L517.09,381.55 L517.21,379.76 L517.37,378.08 L517.57,376.47 L517.82,374.92 L518.12,373.41 L518.46,371.95 L518.85,370.53 L519.28,369.14 L519.75,367.78 L520.28,366.46 L520.84,365.16 L521.45,363.89 L522.11,362.65 L522.81,361.43 L523.55,360.24 L524.34,359.07 L525.16,357.93 L526.04,356.82 L526.95,355.73 L527.91,354.66 L528.91,353.62 L529.95,352.60 L531.04,351.61 L532.16,350.65 L533.33,349.71 L534.53,348.80 L535.78,347.91 L537.07,347.04 L538.40,346.21 L539.76,345.40 L541.17,344.61 L542.61,343.85 L544.10,343.12 L545.62,342.42 L547.18,341.74 L548.79,341.09 L550.42,340.47 L552.10,339.87 L553.82,339.31 L555.57,338.77 L557.37,338.26 L559.20,337.77 L561.07,337.32 L562.98,336.89 L564.94,336.50 L566.93,336.13 L568.98,335.79 L571.06,335.48 L573.20,335.20 L575.39,334.95 L577.64,334.73 L579.95,334.53 L582.34,334.37 L584.82,334.24 L587.41,334.13 L590.15,334.06 L593.16,334.01 L597.00,334.00 L600.84,334.01 L603.85,334.06 L606.59,334.13 L609.18,334.24 L611.66,334.37 L614.05,334.53 L616.36,334.73 L618.61,334.95 L620.80,335.20 L622.94,335.48 L625.02,335.79 L627.07,336.13 L629.06,336.50 L631.02,336.89 L632.93,337.32 L634.80,337.77 L636.63,338.26 L638.43,338.77 L640.18,339.31 L641.90,339.87 L643.58,340.47 L645.21,341.09 L646.82,341.74 L648.38,342.42 L649.90,343.12 L651.39,343.85 L652.83,344.61 L654.24,345.40 L655.60,346.21 L656.93,347.04 L658.22,347.91 L659.47,348.80 L660.67,349.71 L661.84,350.65 L662.96,351.61 L664.05,352.60 L665.09,353.62 L666.09,354.66 L667.05,355.73 L667.96,356.82 L668.84,357.93 L669.66,359.07 L670.45,360.24 L671.19,361.43 L671.89,362.65 L672.55,363.89 L673.16,365.16 L673.72,366.46 L674.25,367.78 L674.72,369.14 L675.15,370.53 L675.54,371.95 L675.88,373.41 L676.18,374.92 L676.43,376.47 L676.63,378.08 L676.79,379.76 L676.91,381.55 L676.98,383.50Z" fill="url(#torus)"/>
<ellipse cx="548" cy="392" rx="38" ry="42" fill="#8a1a1a" opacity="0.3" filter="url(#blur8)"/>
<ellipse cx="597" cy="345" rx="45" ry="14" fill="#a92321" opacity="0.45" filter="url(#blur4)"/>
<path d="M566,336 C576,341 578,350 581,355 L612,355 C615,350 620,341 629,336 Z" fill="url(#funnel)" filter="url(#blur3)"/>
<ellipse cx="575" cy="351" rx="7" ry="3.5" transform="rotate(35 575 351)" fill="#9a1f1f" opacity="0.45" filter="url(#blur15)"/>
<ellipse cx="619" cy="351.5" rx="8" ry="4" transform="rotate(-35 619 351.5)" fill="#9a1f1f" opacity="0.5" filter="url(#blur15)"/>
<path d="M579,354.2 C585,358.6 607,358.6 614.5,354.2 C607,356.3 585,356.3 579,354.2 Z" fill="#8c1b1a" stroke="#8c1b1a" stroke-width="0.8" filter="url(#blur05)"/>
<ellipse cx="593.5" cy="352.5" rx="6" ry="4" fill="#ec5242" filter="url(#blur15)"/>
<ellipse cx="593.5" cy="354" rx="3.4" ry="1.7" fill="#f49378" filter="url(#blur08)"/>
<ellipse cx="622" cy="385" rx="38" ry="20" fill="#ec4636" opacity="0.9" filter="url(#blur4)"/>
<ellipse cx="619" cy="386.7" rx="28.5" ry="12.5" transform="rotate(-7 619 386.7)" fill="url(#hl)" filter="url(#blur1)"/>
</g>
<text x="111" y="173.9" font-size="19.6" fill="#ffffff" textLength="128" lengthAdjust="spacingAndGlyphs">Measurement</text>
<text x="375" y="124.2" font-size="19.3" fill="#ffffff" textLength="89" lengthAdjust="spacingAndGlyphs">Evolution</text>
<text x="240.5" y="235.8" font-size="19.4" fill="#f8d6a4" textLength="131" lengthAdjust="spacingAndGlyphs">Wavefunction</text>
<text x="240.5" y="258" font-size="19.4" fill="#f8d6a4" textLength="77.5" lengthAdjust="spacingAndGlyphs">collapse</text>
<text x="622" y="152.2" font-size="19.6" fill="#f8d6a4" textLength="71" lengthAdjust="spacingAndGlyphs">Internal</text>
<text x="621.5" y="175" font-size="19.6" fill="#f8d6a4" textLength="65" lengthAdjust="spacingAndGlyphs">energy</text>
<text x="621.5" y="197.4" font-size="19.6" fill="#f8d6a4" textLength="69.5" lengthAdjust="spacingAndGlyphs">change</text>
<text x="802.5" y="252" font-size="22.8" fill="#f6b45f" textLength="70" lengthAdjust="spacingAndGlyphs">Work?</text>
<text x="753" y="362" font-size="22.8" fill="#f6b45f" textLength="62.5" lengthAdjust="spacingAndGlyphs">Heat?</text>
<text x="402" y="361.6" font-size="19.2" fill="#f15a2b" textLength="102" lengthAdjust="spacingAndGlyphs">Interaction</text>
<text x="611" y="307.1" font-size="19.4" fill="#f15a2b" textLength="105.5" lengthAdjust="spacingAndGlyphs">Correlation</text>
<text x="48" y="351.9" font-size="13.8" fill="#fbe8cf" textLength="49" lengthAdjust="spacingAndGlyphs">System</text>
<text x="287" y="301.5" font-size="13.6" fill="#fbe8cf" textLength="77.5" lengthAdjust="spacingAndGlyphs">System t=0</text>
<text x="478.5" y="251.5" font-size="13.6" fill="#fbe8cf" textLength="72.5" lengthAdjust="spacingAndGlyphs">System t=1</text>
<text x="85.8" y="508.6" font-size="13.6" fill="#fbe8cf" textLength="86.5" lengthAdjust="spacingAndGlyphs">Environment</text>
<text x="319.2" y="472.8" font-size="13.6" fill="#fbe8cf" textLength="86.5" lengthAdjust="spacingAndGlyphs">Environment</text>
<text x="536.6" y="399.8" font-size="13.6" fill="#fbe8cf" textLength="49.5" lengthAdjust="spacingAndGlyphs">Altered</text>
<text x="537" y="416.6" font-size="13.6" fill="#fbe8cf" textLength="86.5" lengthAdjust="spacingAndGlyphs">Environment</text>
</svg>
</body></html>
